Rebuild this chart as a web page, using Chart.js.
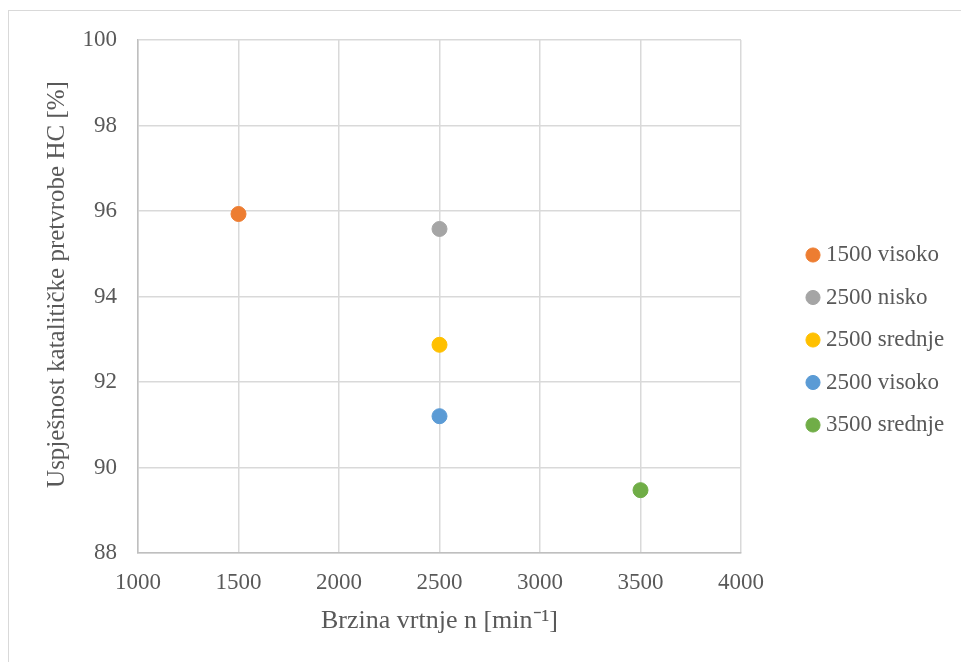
<!DOCTYPE html>
<html>
<head>
<meta charset="utf-8">
<script src="https://cdn.jsdelivr.net/npm/chart.js@4/dist/chart.umd.min.js"></script>
<style>
  html, body { margin: 0; padding: 0; background: #fff; overflow: hidden; }
  #frame { position: absolute; left: 8px; top: 10px; width: 1000px; height: 700px; border: 1px solid #d9d9d9; box-sizing: border-box; }
  #wrap { position: absolute; left: 0; top: 0; width: 961px; height: 662px; }
</style>
</head>
<body>
<div id="frame"></div>
<div id="wrap"><canvas id="c" width="961" height="662"></canvas></div>
<script>
const seriesNames = ["1500 visoko", "2500 nisko", "2500 srednje", "2500 visoko", "3500 srednje"];
const xValues = [1500, 2500, 2500, 2500, 3500];
const yValues = [95.93, 95.58, 92.87, 91.2, 89.47];
const colors = ["#ED7D31", "#A5A5A5", "#FFC000", "#5B9BD5", "#70AD47"];
const xTitle = "Brzina vrtnje n [min\u207B\u00B9]";
const yTitle = "Uspješnost katalitičke pretvrobe HC [%]";

const datasets = seriesNames.map((name, i) => ({
  label: name,
  data: [{ x: xValues[i], y: yValues[i] }],
  backgroundColor: colors[i],
  borderColor: colors[i],
  pointRadius: 7.5,
  pointHoverRadius: 7.5,
  pointStyle: 'circle',
  showLine: false
}));

const family = "'Liberation Serif', 'Times New Roman', serif";
const font = { family: family, size: 23 };
const textColor = "#595959";

// legend area width and placement of its first column
const LEGEND_W = 220;
const LEGEND_LEFT = 792;
const LEGEND_DY = -11;
const YTITLE_DY = -12;

const layoutTweaks = {
  id: 'layoutTweaks',
  beforeLayout(chart) {
    const lg = chart.legend;
    if (lg && !lg._fixedW) {
      const orig = lg.fit.bind(lg);
      lg.fit = function () { orig(); this.width = LEGEND_W; };
      lg._fixedW = true;
    }
  },
  afterLayout(chart) {
    const lg = chart.legend;
    if (lg) {
      const dx = LEGEND_LEFT - lg.left;
      lg.left += dx; lg.right += dx;
      lg.top += LEGEND_DY; lg.bottom += LEGEND_DY;
    }
    const ys = chart.scales.y;
    if (ys && !ys._titleShift) {
      const origDraw = ys.drawTitle.bind(ys);
      ys.drawTitle = function () {
        const ctx = this.ctx;
        ctx.save();
        ctx.translate(0, YTITLE_DY);
        origDraw();
        ctx.restore();
      };
      ys._titleShift = true;
    }
  }
};

new Chart(document.getElementById('c'), {
  type: 'scatter',
  data: { datasets },
  plugins: [layoutTweaks],
  options: {
    responsive: false,
    animation: false,
    devicePixelRatio: 1,
    layout: { padding: { top: 40, left: 0, right: 0, bottom: 0 } },
    plugins: {
      tooltip: { enabled: false },
      legend: {
        position: 'right',
        align: 'center',
        labels: {
          usePointStyle: true,
          pointStyle: 'circle',
          boxWidth: 3,
          boxHeight: 10,
          padding: 19.5,
          color: textColor,
          font: font
        }
      }
    },
    scales: {
      x: {
        type: 'linear',
        min: 1000, max: 4000,
        ticks: { stepSize: 500, color: textColor, font: font, padding: 16, maxRotation: 0, callback: (v) => String(v) },
        grid: { color: '#d9d9d9', lineWidth: 1.5, drawTicks: false },
        border: { color: '#bfbfbf', width: 1.5 },
        title: { display: true, text: xTitle, color: textColor, font: { family: family, size: 26 }, padding: { top: 10, bottom: 25 } },
        afterFit: (s) => { s.height = 109; }
      },
      y: {
        type: 'linear',
        min: 88, max: 100,
        ticks: { stepSize: 2, color: textColor, font: font, padding: 21, callback: (v) => String(v) },
        grid: { color: '#d9d9d9', lineWidth: 1.5, drawTicks: false },
        border: { color: '#bfbfbf', width: 1.5 },
        title: { display: true, text: yTitle, color: textColor, font: { family: family, size: 25 }, padding: { top: 42, bottom: 0 } },
        afterFit: (s) => { s.width = 138; }
      }
    }
  }
});
</script>
</body>
</html>
